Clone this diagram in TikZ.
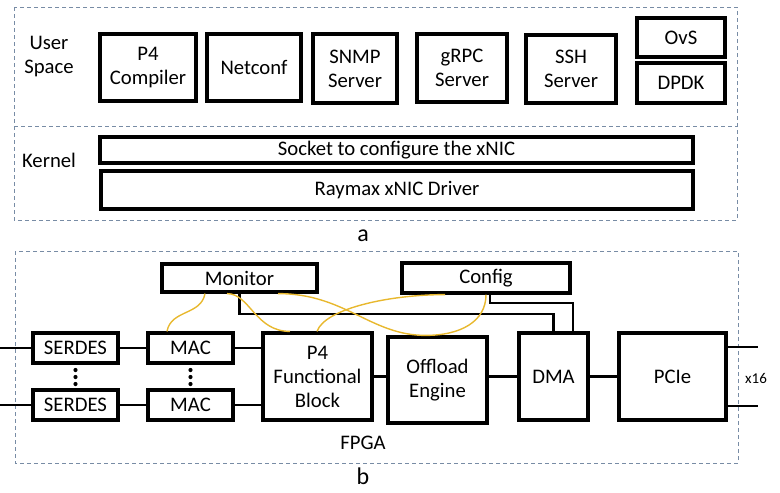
\documentclass[tikz,border=0pt]{standalone}
\usepackage{fontspec}
\setmainfont{Carlito}
\usetikzlibrary{positioning,calc}

\definecolor{frameblue}{RGB}{120,140,165}
\definecolor{linkyellow}{RGB}{232,184,46}

\begin{document}
\begin{tikzpicture}[x=1pt, y=-1pt,
    every node/.style={align=center, inner sep=0pt, font=\fontsize{20.7}{24}\selectfont},
    blk/.style={draw, rectangle, line width=3.2pt},
    layer/.style={draw=frameblue, line width=1pt, dash pattern=on 4pt off 3pt},
    wire/.style={line width=2.2pt},
    link/.style={draw=linkyellow, line width=1.4pt}]
    \useasboundingbox (0,0) rectangle (780,493);

    % a: host software
    \draw[layer] (14,7) rectangle (737,220);
    \draw[layer] (14,126) -- (737,126);
    \node (us) at (49,57) {User\\Space};
    \node (kn) at (49,160) {Kernel};
    \node[blk, minimum width=96, minimum height=67] (p4c) at (148,67.5) {P4\\Compiler};
    \node[blk, minimum width=94, minimum height=67] (ncf) at (254,67.5) {Netconf};
    \node[blk, minimum width=84, minimum height=69] (snmp) at (355,68.5) {SNMP\\Server};
    \node[blk, minimum width=90, minimum height=68] (grpc) at (462,68) {gRPC\\Server};
    \node[blk, minimum width=90, minimum height=68] (ssh) at (571,69) {SSH\\Server};
    \node[blk, minimum width=88, minimum height=39] (ovs) at (681,37.5) {OvS};
    \node[blk, minimum width=88, minimum height=40] (dpdk) at (681,83) {DPDK};
    \node[blk, minimum width=593, minimum height=26] (sock) at (396.5,150) {Socket to configure the xNIC};
    \node[blk, minimum width=592, minimum height=38] (drv) at (397,190) {Raymax xNIC Driver};
    \node[font=\fontsize{24}{24}\selectfont] (ca) at (363,236) {a};

    % b: FPGA
    \draw[layer] (15,251) rectangle (738,463);
    \node[blk, minimum width=155, minimum height=28] (mon) at (239.5,278) {Monitor};
    \node[blk, minimum width=168, minimum height=30] (cfg) at (486,278) {Config};
    \node[blk, minimum width=85, minimum height=30] (s1) at (75.5,348) {SERDES};
    \node[blk, minimum width=85, minimum height=30] (s2) at (75.5,405) {SERDES};
    \node[blk, minimum width=85, minimum height=30] (m1) at (190.5,348) {MAC};
    \node[blk, minimum width=85, minimum height=30] (m2) at (190.5,405) {MAC};
    \node[blk, minimum width=109, minimum height=87] (p4) at (317.5,376.5) {P4\\Functional\\Block};
    \node[blk, minimum width=99, minimum height=86] (ofl) at (437.5,380) {Offload\\Engine};
    \node[blk, minimum width=69, minimum height=87] (dma) at (553.5,376.5) {DMA};
    \node[blk, minimum width=107, minimum height=87] (pcie) at (672.5,376.5) {PCIe};
    \node (fpga) at (363,443) {FPGA};
    \node[font=\fontsize{15}{15}\selectfont] (lanes) at (756,378) {x16};
    \node[font=\fontsize{24}{24}\selectfont] (cb) at (363,476) {b};
    \foreach \y in {370,377,384}{
      \fill (75.5,\y) circle (2.1);
      \fill (190.5,\y) circle (2.1);
    }

    % data path
    \coordinate (in1) at (0,348);
    \coordinate (in2) at (0,405);
    \coordinate (out1) at (758,347);
    \coordinate (out2) at (758,406);
    \foreach \u/\v in {in1/s1.west,in2/s2.west,s1.east/m1.west,s2.east/m2.west,
        m1.east/p4.west|-m1.east,m2.east/p4.west|-m2.east,p4.east/ofl.west|-p4.east,
        dma.west/ofl.east|-dma.west,dma.east/pcie.west,pcie.east|-out1/out1,pcie.east|-out2/out2}{
      \draw[wire] (\u) -- (\v);
    }
    \draw[wire] (mon.south) -- ++(0,20) -| (dma.north);
    \draw[wire] ([xshift=4]cfg.south) -- ++(0,8) -| ([xshift=19.5]dma.north);

    % control links
    \draw[link] ([xshift=-34.5]mon.south) .. controls +(-4,22) and +(4,-22) .. ([xshift=-23.5]m1.north);
    \draw[link] ([xshift=-12.5]mon.south) .. controls +(23,0) and +(-35,0) .. ([xshift=-27.5]p4.north);
    \draw[link] ([xshift=-0.5]p4.north) .. controls +(8,-23) and +(-55,0) .. ([xshift=-41]cfg.south);
    \coordinate (oflt) at ([xshift=-12]ofl.north);
    \draw[link] ([xshift=38.5]mon.south) .. controls +(67,0) and +(-55,0) .. (oflt)
      .. controls +(35,0) and +(0,27) .. (cfg.south);
\end{tikzpicture}
\end{document}
